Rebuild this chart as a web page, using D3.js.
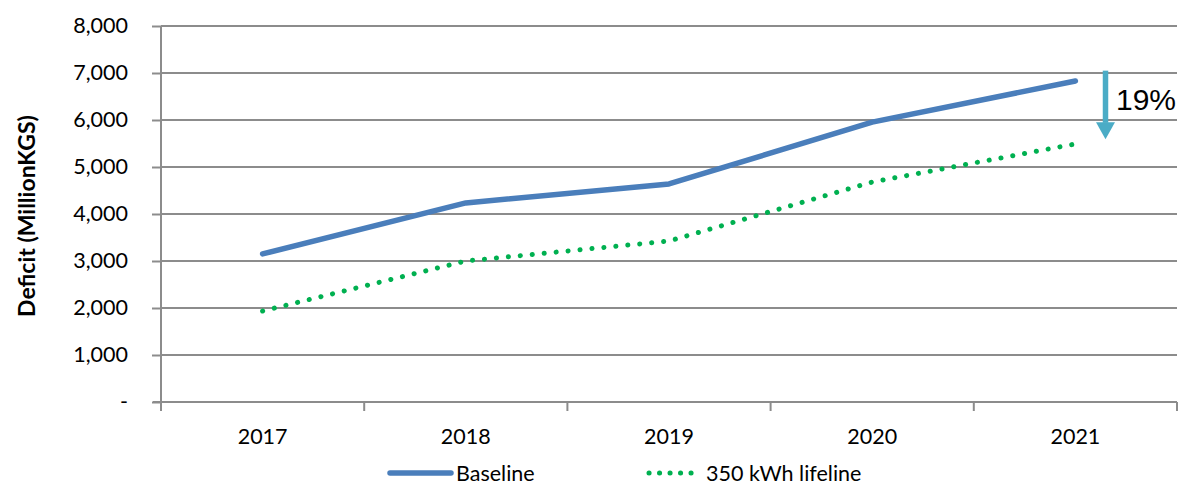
<!DOCTYPE html>
<html><head><meta charset="utf-8">
<script src="https://cdn.jsdelivr.net/npm/d3@7"></script>
<style>body{margin:0;background:#fff}</style>
</head><body>
<svg id="c" width="1183" height="487"></svg>
<script>
const categories = ["2017","2018","2019","2020","2021"];
const baseline = [3150, 4235, 4640, 5955, 6830];
const lifeline = [1935, 3000, 3425, 4680, 5490];
const yTicks = [0,1000,2000,3000,4000,5000,6000,7000,8000];
const seriesNames = ["Baseline","350 kWh lifeline"];
const annotation = "19%";

const svg = d3.select("#c");
const m = {l:161, r:1177, t:26, b:402};
const x = d3.scaleBand().domain(categories).range([m.l, m.r]);
const y = d3.scaleLinear().domain([0,8000]).range([m.b, m.t]);
const font = "Lato, 'Open Sans', sans-serif";
const grid = "#8c8c8c";
const fs = 21.5;

// gridlines
svg.append("g").selectAll("line").data(yTicks.filter(d=>d>0)).join("line")
  .attr("x1", m.l).attr("x2", m.r).attr("y1", d=>y(d)).attr("y2", d=>y(d))
  .attr("stroke", grid).attr("stroke-width", 2);

// y axis
const ya = svg.append("g").attr("transform", `translate(${m.l},0)`)
  .call(d3.axisLeft(y).tickValues(yTicks).tickSize(9).tickPadding(24)
    .tickFormat(d => d===0 ? "-" : d3.format(",")(d)));
ya.select(".domain").attr("stroke", grid).attr("stroke-width", 2).attr("d", `M0,${m.t}V${m.b+8}`);
ya.selectAll(".tick line").attr("stroke", grid).attr("stroke-width", 2).attr("x2", 0).attr("x1", -9);
ya.selectAll(".tick text").attr("font-family", font).attr("font-size", fs).attr("fill", "#000");

// x axis
const xa = svg.append("g").attr("transform", `translate(0,${m.b})`)
  .call(d3.axisBottom(x).tickSize(0).tickPadding(27));
xa.select(".domain").attr("stroke", grid).attr("stroke-width", 2).attr("d", `M${m.l-8},0H${m.r}`);
xa.selectAll(".tick text").attr("font-family", font).attr("font-size", fs).attr("fill", "#000");
const bounds = categories.map(c=>x(c)).concat([m.r]);
svg.append("g").selectAll("line").data(bounds).join("line")
  .attr("x1", d=>d).attr("x2", d=>d).attr("y1", m.b).attr("y2", m.b+9)
  .attr("stroke", grid).attr("stroke-width", 2);

// y label
svg.append("text").attr("transform", `translate(35,${(m.t+m.b)/2+2}) rotate(-90)`)
  .attr("text-anchor","middle").attr("font-family", font).attr("font-weight","bold")
  .attr("font-size", 23).text("Deficit (MillionKGS)");

const line = d3.line().x((d,i)=>x(categories[i])+x.bandwidth()/2).y(d=>y(d));
svg.append("path").datum(baseline).attr("d", line).attr("fill","none")
  .attr("stroke","#4a7ebb").attr("stroke-width",5.5).attr("stroke-linecap","round").attr("stroke-linejoin","round");
svg.append("path").datum(lifeline).attr("d", line).attr("fill","none")
  .attr("stroke","#00b050").attr("stroke-width",5).attr("stroke-linecap","round")
  .attr("stroke-dasharray","0.1 11.9");

// arrow annotation
const ax = 1105.5;
svg.append("line").attr("x1",ax).attr("x2",ax).attr("y1",y(7050)).attr("y2",y(5940))
  .attr("stroke","#4bacc6").attr("stroke-width",5.5);
svg.append("path").attr("d", `M${ax-9.5},${y(5950)} L${ax+9.5},${y(5950)} L${ax},${y(5590)} Z`).attr("fill","#4bacc6");
svg.append("text").attr("x",1116).attr("y",110).attr("font-family","'Liberation Sans', Arial, sans-serif")
  .attr("font-size",30).text(annotation);

// legend
const lg = svg.append("g").attr("font-family", font).attr("font-size", fs);
lg.append("line").attr("x1",390).attr("x2",451).attr("y1",473).attr("y2",473)
  .attr("stroke","#4a7ebb").attr("stroke-width",5.5).attr("stroke-linecap","round");
lg.append("text").attr("x",456).attr("y",481).text(seriesNames[0]);
lg.append("line").attr("x1",649).attr("x2",701).attr("y1",473).attr("y2",473)
  .attr("stroke","#00b050").attr("stroke-width",5).attr("stroke-linecap","round").attr("stroke-dasharray","0.1 10.4");
lg.append("text").attr("x",706).attr("y",481).text(seriesNames[1]);
</script>
</body></html>
